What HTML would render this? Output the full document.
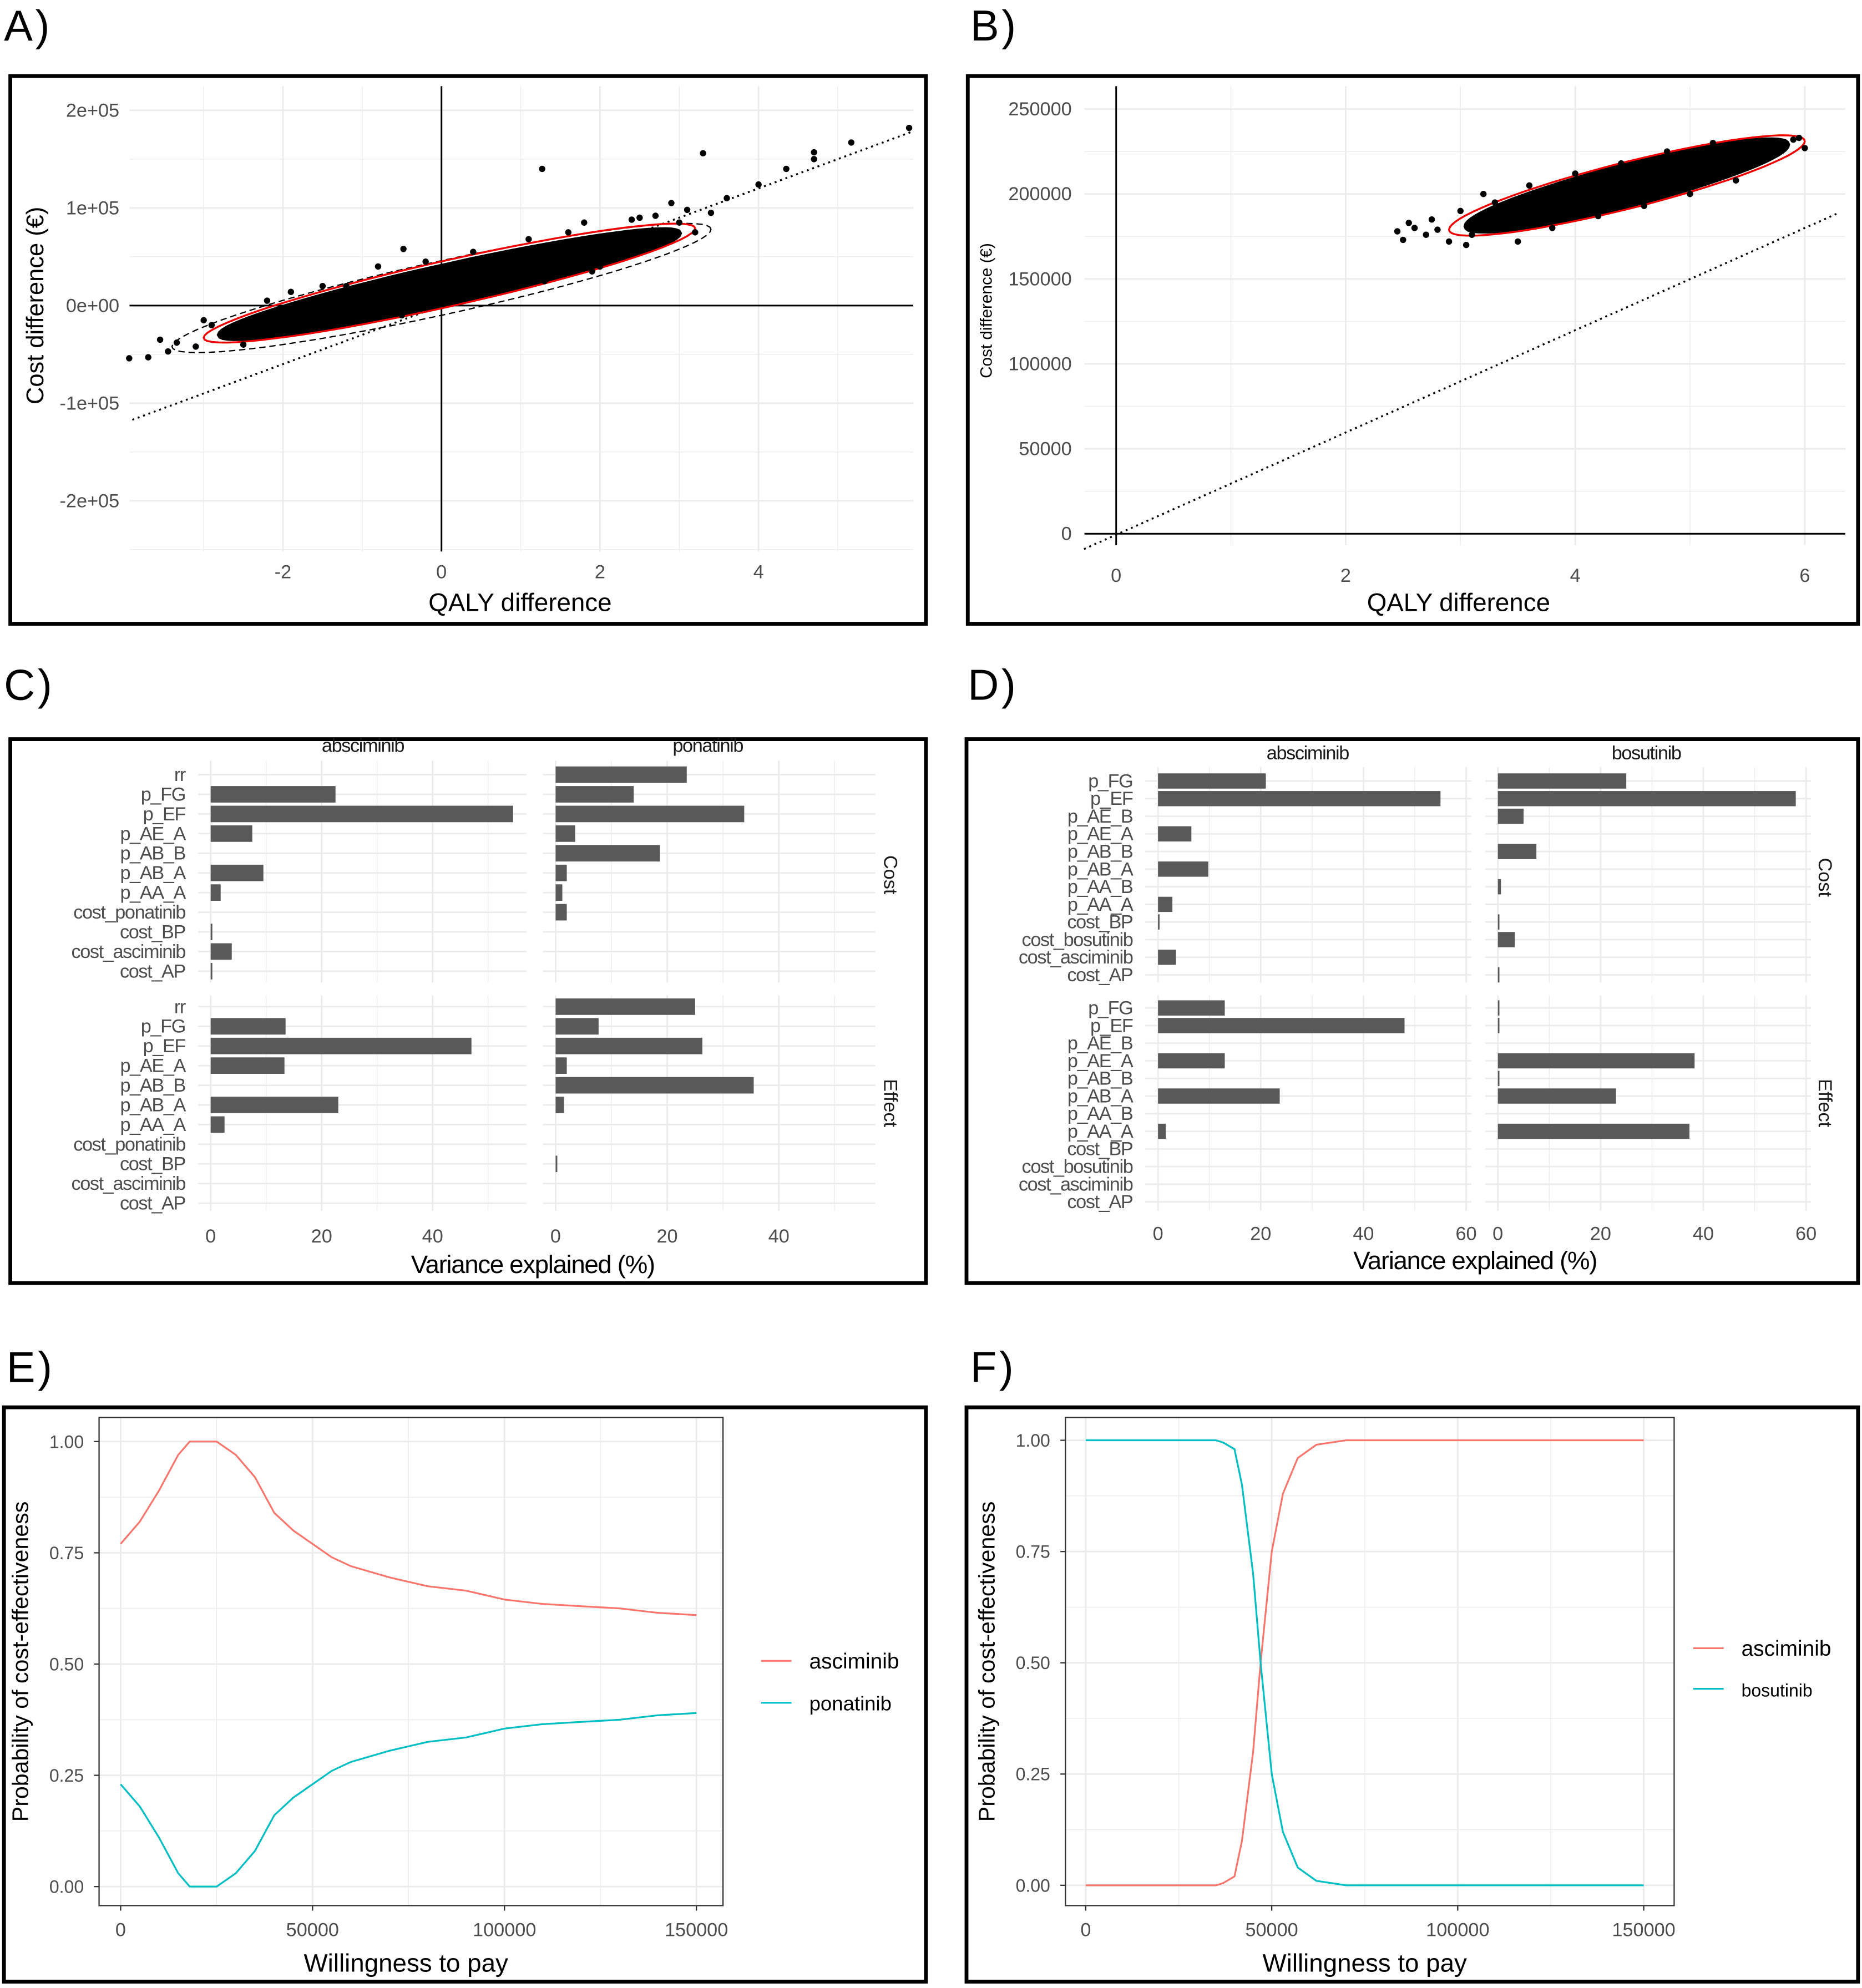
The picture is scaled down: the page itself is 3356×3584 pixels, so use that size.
<!DOCTYPE html>
<html><head><meta charset="utf-8"><style>
html,body{margin:0;padding:0;background:#fff;}
svg{display:block;font-family:"Liberation Sans",sans-serif;}
</style></head><body>
<svg id="fig" xmlns="http://www.w3.org/2000/svg" width="3356" height="3584" viewBox="0 0 1468 1568">
<rect x="0" y="0" width="1468" height="1568" fill="#fff"/>
</svg>
<script>
// ---- Panel A data ----
const aOutX=[5.9,5.17,4.7,4.7,4.35,4.0,3.3,1.27,-3.94,-3.7,-3.55,-3.45,-3.34,3.1,3.0,-0.48,-1.9,-2.7,3.6,2.5,3.2,-3.1,-2.9,1.8,0.9,-1.2,2.9,3.4,-0.2,2.2,-2.2,-1.5,-0.8,0.4,1.1,1.6,2.4,2.7,-2.5,-1.0,0.2,1.3,2.0,-3.0,-2.0,-0.5,0.7,1.9];
const aOutY=[182000,167000,157000,150000,140000,124000,156000,140000,-54000,-53000,-35000,-47000,-38000,98000,85000,58000,14000,-25000,110000,90000,75000,-42000,-20000,85000,55000,20000,105000,95000,45000,60000,5000,20000,40000,55000,68000,75000,88000,92000,-40000,-5000,5000,25000,40000,-15000,-25000,-10000,15000,35000];
const aCloud=[0.1,22000,2.9,52000,0,20000];
const aRed=[0.1,23000,3.1,56000,0,24000];
const aDash=[0.0,18000,3.4,60000,0,28000];
// ---- Panel B data ----
const bOutX=[2.45,2.5,2.6,2.7,2.8,2.9,3.0,3.1,5.9,6.0,5.7,3.3,5.5,3.5,2.55,2.75,3.05,5.8,5.95,3.2,3.6,4.0,4.4,4.8,5.2,3.8,4.2,4.6,5.0,5.4];
const bOutY=[178000,173000,180000,176000,179000,172000,190000,176000,232000,227000,230000,195000,225000,172000,183000,185000,170000,226000,233000,200000,205000,212000,218000,225000,230000,180000,187000,193000,200000,208000];
const bCloud=[4.45,205000,1.4,24000,0,12000];
const bRed=[4.45,205000,1.55,26000,0,14000];
// ---- Panel C data ----
const cLabels=["rr","p_FG","p_EF","p_AE_A","p_AB_B","p_AB_A","p_AA_A","cost_ponatinib","cost_BP","cost_asciminib","cost_AP"];
const cCostL=[0,22.5,54.5,7.5,0,9.5,1.8,0,0.3,3.8,0.3];
const cCostR=[23.5,14,33.8,3.5,18.7,2,1.2,2,0,0,0];
const cEffL=[0,13.5,47,13.3,0,23,2.5,0,0,0,0];
const cEffR=[25,7.7,26.3,2,35.5,1.5,0,0,0.3,0,0];
const cTicks=[0,20,40];
// ---- Panel D data ----
const dLabels=["p_FG","p_EF","p_AE_B","p_AE_A","p_AB_B","p_AB_A","p_AA_B","p_AA_A","cost_BP","cost_bosutinib","cost_asciminib","cost_AP"];
const dCostL=[21,55,0,6.5,0,9.8,0,2.8,0.3,0,3.5,0];
const dCostR=[25,58,5,0,7.5,0,0.6,0,0.3,3.3,0,0.3];
const dEffL=[13,48,0,13,0,23.7,0,1.5,0,0,0,0];
const dEffR=[0.3,0.3,0,38.3,0.3,23,0,37.3,0,0,0,0];
const dTicks=[0,20,40,60];
// ---- Panel E data ----
const eWtp=[0,5000,10000,15000,18000,25000,30000,35000,40000,45000,50000,55000,60000,70000,80000,90000,100000,110000,120000,130000,140000,150000];
const eAsc=[0.77,0.82,0.89,0.97,1,1,0.97,0.92,0.84,0.80,0.77,0.74,0.72,0.695,0.675,0.665,0.645,0.635,0.63,0.625,0.615,0.61];
const ePon=[0.23,0.18,0.11,0.03,0,0,0.03,0.08,0.16,0.20,0.23,0.26,0.28,0.305,0.325,0.335,0.355,0.365,0.37,0.375,0.385,0.39];
// ---- Panel F data ----
const fWtp=[0,35000,37000,40000,42000,45000,47000,50000,53000,57000,62000,70000,100000,150000];
const fAsc=[0,0,0.005,0.02,0.1,0.3,0.5,0.75,0.88,0.96,0.99,1,1,1];
const fBos=[1,1,0.995,0.98,0.9,0.7,0.5,0.25,0.12,0.04,0.01,0,0,0];
const probTicks=[0,0.25,0.5,0.75,1];
const probLabels=["0.00","0.25","0.50","0.75","1.00"];
const wtpTicks=[0,50000,100000,150000];

const svg=document.getElementById('fig');
const NS="http://www.w3.org/2000/svg";
function mk(tag,attrs,parent){const e=document.createElementNS(NS,tag);for(const k in attrs)e.setAttribute(k,attrs[k]);(parent||svg).appendChild(e);return e;}
function lin(d0,d1,r0,r1){return v=>r0+(v-d0)*(r1-r0)/(d1-d0);}
function txt(x,y,s,size,anchor,extra,name){const t=mk('text',Object.assign({x:x,y:y,'font-size':size,'text-anchor':anchor||'start',fill:'#000'},extra||{}));t.textContent=s;


return t;}
function line(x1,y1,x2,y2,st,w,extra,name){const l=mk('line',Object.assign({x1:x1,y1:y1,x2:x2,y2:y2,stroke:st,'stroke-width':w},extra||{}));


return l;}
function frame(x,y,w,h,name){const r=mk('rect',{x:x,y:y,width:w,height:h,fill:'none',stroke:'#000','stroke-width':3});

}
function ellipsePts(p,sx,sy){let pts=[];for(let i=0;i<=72;i++){const t=i/72*2*Math.PI;const x=p[0]+p[2]*Math.cos(t)+p[4]*Math.sin(t);const y=p[1]+p[3]*Math.cos(t)+p[5]*Math.sin(t);pts.push(sx(x).toFixed(1)+','+sy(y).toFixed(1));}return pts.join(' ');}
const gridC='#ebebeb',tickC='#4d4d4d';
const narrow={'letter-spacing':'-0.6'};

[["A)",3,32],["B)",765,32],["C)",3,552],["D)",763,552],["E)",5,1090],["F)",765,1090]].forEach(p=>txt(p[1],p[2],p[0],34,'start',{'letter-spacing':'2'},'panel-letter'));

// ===== Panel A =====
frame(8,60,722,432,'panel-a-frame');
{const sx=lin(0,2,348,473),sy=lin(0,100000,241,164);const L=102,R=720,T=68,B=435;
 for(let v=-3;v<=5;v++)line(sx(v),T,sx(v),B,gridC,v%2==0?1.2:0.6,{},'grid-x');
 for(let v=-2.5e5;v<=2e5;v+=5e4){if(sy(v)<T||sy(v)>B)continue;line(L,sy(v),R,sy(v),gridC,v%1e5==0?1.2:0.6,{},'grid-y');}
 [-2,0,2,4].forEach(v=>txt(sx(v),456,String(v),15,'middle',{fill:tickC},'x-tick'));
 [[2e5,"2e+05"],[1e5,"1e+05"],[0,"0e+00"],[-1e5,"-1e+05"],[-2e5,"-2e+05"]].forEach(t=>txt(94,sy(t[0])+5,t[1],15,'end',{fill:tickC},'y-tick'));
 line(sx(-3.9),sy(-117000),sx(5.95),sy(178500),'#000',1.5,{'stroke-dasharray':'1.5,3'},'wtp-threshold-line');
 line(sx(0),T,sx(0),B,'#000',1.3,{},'y-zero-line');line(L,sy(0),R,sy(0),'#000',1.3,{},'x-zero-line');
 let e=mk('polygon',{points:ellipsePts(aDash,sx,sy),fill:'none',stroke:'#000','stroke-width':1,'stroke-dasharray':'5,3'});
 e=mk('polygon',{points:ellipsePts(aCloud,sx,sy),fill:'#000',stroke:'#000','stroke-width':4});
 e=mk('polygon',{points:ellipsePts(aRed,sx,sy),fill:'none',stroke:'#e00','stroke-width':1.5});
 aOutX.forEach((x,i)=>{const c=mk('circle',{cx:sx(x),cy:sy(aOutY[i]),r:2.5,fill:'#000'});});
 txt(410,482,"QALY difference",20,'middle',{},'x-axis-title');
 txt(34,241,"Cost difference (€)",19,'middle',{transform:'rotate(-90 34 241)'},'y-axis-title');
}
// ===== Panel B =====
frame(763,60,702,432,'panel-b-frame');
{const sx=lin(0,2,880,1061),sy=lin(0,50000,421,354);const L=855,R=1455,T=68,B=430;
 for(let v=0;v<=6.4;v+=1)line(sx(v),T,sx(v),B,gridC,v%2==0?1.2:0.6,{},'grid-x');
 for(let v=0;v<=250000;v+=25000)line(L,sy(v),R,sy(v),gridC,v%50000==0?1.2:0.6,{},'grid-y');
 [0,2,4,6].forEach(v=>txt(sx(v),459,String(v),15,'middle',{fill:tickC},'x-tick'));
 [0,50000,100000,150000,200000,250000].forEach(v=>txt(845,sy(v)+5,String(v),15,'end',{fill:tickC},'y-tick'));
 line(sx(-0.28),sy(-9000),sx(6.3),sy(189000),'#000',1.5,{'stroke-dasharray':'1.5,3'},'wtp-threshold-line');
 line(sx(0),T,sx(0),B,'#000',1.3,{},'y-zero-line');line(L,sy(0),R,sy(0),'#000',1.3,{},'x-zero-line');
 let e=mk('polygon',{points:ellipsePts(bCloud,sx,sy),fill:'#000',stroke:'#000','stroke-width':4});
 e=mk('polygon',{points:ellipsePts(bRed,sx,sy),fill:'none',stroke:'#e00','stroke-width':1.5});
 bOutX.forEach((x,i)=>{const c=mk('circle',{cx:sx(x),cy:sy(bOutY[i]),r:2.5,fill:'#000'});});
 txt(1150,482,"QALY difference",20,'middle',{},'x-axis-title');
 txt(782,245,"Cost difference (€)",13,'middle',{transform:'rotate(-90 782 245)'},'y-axis-title');
}
// ===== bar panels =====
function barFacet(x0,x1,px20,yTop,yBot,labels,vals,ys,bh,showLabels,labelX,ticks,maxV){
 const sx=lin(0,20,x0,x0+px20);
 for(let v=0;v<=maxV;v+=10)line(sx(v),yTop,sx(v),yBot,gridC,v%20==0?1.2:0.6,{},'grid-x');
 ys.forEach((y,i)=>{line(x0-10,y,x1,y,gridC,1.2,{},'grid-y');});
 vals.forEach((v,i)=>{if(v<=0)return;const r=mk('rect',{x:x0,y:ys[i]-bh/2,width:Math.max(sx(v)-x0,1),height:bh,fill:'#595959'});
 
 });
 if(showLabels)labels.forEach((l,i)=>txt(labelX,ys[i]+5,l,15,'end',Object.assign({fill:tickC},narrow),'y-tick'));
 return sx;
}
frame(8,583,722,429,'panel-c-frame');
{const cy=cLabels.map((l,i)=>611+i*15.5), ey=cLabels.map((l,i)=>794+i*15.5);
 const sL=barFacet(166,415,87.5,600,775,cLabels,cCostL,cy,13,true,146,cTicks,55);
 const sR=barFacet(438,690,88,600,775,cLabels,cCostR,cy,13,false,0,cTicks,55);
 barFacet(166,415,87.5,785,955,cLabels,cEffL,ey,13,true,146,cTicks,55);
 barFacet(438,690,88,785,955,cLabels,cEffR,ey,13,false,0,cTicks,55);
 cTicks.forEach(v=>{txt(sL(v),980,String(v),15,'middle',{fill:tickC},'x-tick');txt(sR(v),980,String(v),15,'middle',{fill:tickC},'x-tick');});
 txt(286,593,"absciminib",15,'middle',Object.assign({fill:'#1a1a1a'},narrow),'facet-strip');
 txt(558,593,"ponatinib",15,'middle',Object.assign({fill:'#1a1a1a'},narrow),'facet-strip');
 txt(697,690,"Cost",15,'middle',{fill:'#1a1a1a',transform:'rotate(90 697 690)'},'facet-strip');
 txt(697,870,"Effect",15,'middle',{fill:'#1a1a1a',transform:'rotate(90 697 870)'},'facet-strip');
 txt(420,1004,"Variance explained (%)",20,'middle',narrow,'x-axis-title');
}
frame(762,583,703,429,'panel-d-frame');
{const cy=dLabels.map((l,i)=>616+i*13.9), ey=dLabels.map((l,i)=>795+i*13.9);
 const sL=barFacet(913,1160,81,605,775,dLabels,dCostL,cy,12,true,893,dTicks,60);
 const sR=barFacet(1181,1428,81,605,775,dLabels,dCostR,cy,12,false,0,dTicks,60);
 barFacet(913,1160,81,785,955,dLabels,dEffL,ey,12,true,893,dTicks,60);
 barFacet(1181,1428,81,785,955,dLabels,dEffR,ey,12,false,0,dTicks,60);
 dTicks.forEach(v=>{txt(sL(v),978,String(v),15,'middle',{fill:tickC},'x-tick');txt(sR(v),978,String(v),15,'middle',{fill:tickC},'x-tick');});
 txt(1031,599,"absciminib",15,'middle',Object.assign({fill:'#1a1a1a'},narrow),'facet-strip');
 txt(1298,599,"bosutinib",15,'middle',Object.assign({fill:'#1a1a1a'},narrow),'facet-strip');
 txt(1434,692,"Cost",15,'middle',{fill:'#1a1a1a',transform:'rotate(90 1434 692)'},'facet-strip');
 txt(1434,870,"Effect",15,'middle',{fill:'#1a1a1a',transform:'rotate(90 1434 870)'},'facet-strip');
 txt(1163,1001,"Variance explained (%)",20,'middle',narrow,'x-axis-title');
}
// ===== CEAC panels =====
function ceac(L,R,T,B,sx,sy,wtp,s1,s2,n1,n2,legX,legY1,legY2,titleX,ylabX,frameArgs,fname){
 frame(frameArgs[0],frameArgs[1],frameArgs[2],frameArgs[3],fname);
 for(let v=0;v<=150000;v+=25000)line(sx(v),T,sx(v),B,gridC,v%50000==0?1.2:0.6,{},'grid-x');
 for(let v=0;v<=1;v+=0.125)line(L,sy(v),R,sy(v),gridC,(v*8)%2==0?1.2:0.6,{},'grid-y');
 const pr=mk('rect',{x:L,y:T,width:R-L,height:B-T,fill:'none',stroke:'#333','stroke-width':1});
 probTicks.forEach((v,i)=>{txt(L-12,sy(v)+5,probLabels[i],14,'end',{fill:tickC},'y-tick');line(L-4,sy(v),L,sy(v),'#333',1,{},'y-tick-mark');});
 wtpTicks.forEach(v=>{txt(sx(v),B+24,String(v),15,'middle',{fill:tickC},'x-tick');line(sx(v),B,sx(v),B+4,'#333',1,{},'x-tick-mark');});
 [[s1,'#F8766D',n1],[s2,'#00BFC4',n2]].forEach(s=>{const p=mk('polyline',{points:wtp.map((w,i)=>sx(w).toFixed(1)+','+sy(s[0][i]).toFixed(1)).join(' '),fill:'none',stroke:s[1],'stroke-width':1.4});
 
 });
 line(legX,legY1,legX+24,legY1,'#F8766D',1.4,{},'legend-key');line(legX,legY2,legX+24,legY2,'#00BFC4',1.4,{},'legend-key');
 txt(legX+38,legY1+6,n1,17,'start',{},'legend-entry');txt(legX+38,legY2+6,n2,n2=="bosutinib"?14:16,'start',{},'legend-entry');
 txt(titleX,B+52,"Willingness to pay",20,'middle',{},'x-axis-title');
 txt(ylabX,(T+B)/2,"Probability of cost-effectiveness",18,'middle',{transform:`rotate(-90 ${ylabX} ${(T+B)/2})`},'y-axis-title');
}
ceac(78,570,1118,1503,lin(0,150000,95,549),lin(0,1,1488,1137),eWtp,eAsc,ePon,"asciminib","ponatinib",600,1310,1343,320,22,[3,1110,727,453],'panel-e-frame');
ceac(840,1320,1118,1503,lin(0,150000,856,1296),lin(0,1,1487,1136),fWtp,fAsc,fBos,"asciminib","bosutinib",1335,1300,1332,1076,784,[762,1110,703,453],'panel-f-frame');
</script>
</body></html>
